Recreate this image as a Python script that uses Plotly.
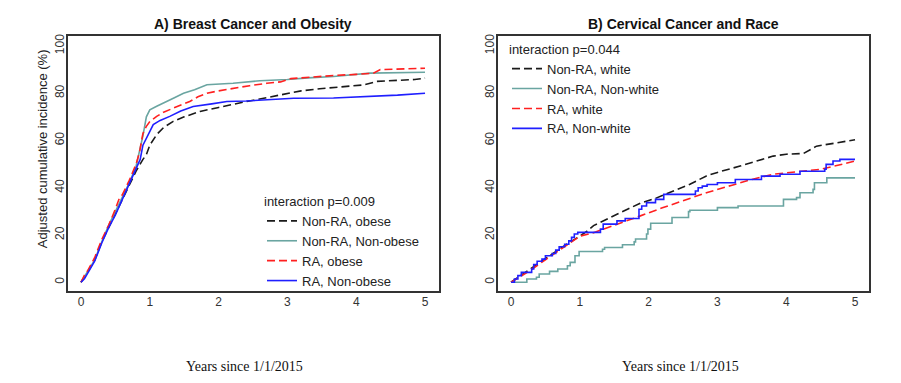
import plotly.graph_objects as go

# ---------------- Panel A: Breast cancer and obesity ----------------
a_black_x = [0, 0.05, 0.1, 0.2, 0.3, 0.4, 0.5, 0.6, 0.7, 0.8, 0.9, 0.95, 1.0, 1.1, 1.2, 1.34, 1.5, 1.73, 2.0, 2.16, 2.4, 2.55, 2.75, 2.99, 3.2, 3.47, 3.86, 4.1, 4.3, 4.6, 4.85, 5.0]
a_black_y = [0, 2, 4.5, 9.5, 17, 23, 29, 35, 41, 47, 52, 54, 58, 62.5, 65.5, 68.1, 70, 72.3, 74, 75.1, 76.5, 77.3, 78.5, 80, 81, 81.9, 82.9, 83.5, 85, 85.3, 85.8, 86.4]

a_teal_x = [0, 0.1, 0.2, 0.3, 0.4, 0.5, 0.6, 0.7, 0.8, 0.85, 0.9, 0.95, 1.0, 1.1, 1.2, 1.35, 1.49, 1.65, 1.83, 2.0, 2.21, 2.6, 3.0, 3.3, 3.67, 4.2, 4.6, 5.0]
a_teal_y = [0, 4.5, 9.5, 17, 24, 30, 36, 42, 49, 55, 62, 70, 73, 74.5, 75.8, 78, 80, 81.5, 83.6, 83.9, 84.2, 85.3, 85.8, 86.5, 87.1, 88.5, 88.8, 88.9]

a_red_x = [0, 0.05, 0.1, 0.2, 0.3, 0.4, 0.5, 0.55, 0.6, 0.7, 0.8, 0.85, 0.9, 0.95, 1.0, 1.1, 1.2, 1.34, 1.45, 1.58, 1.7, 1.83, 2.0, 2.21, 2.45, 2.7, 2.9, 3.05, 3.3, 3.67, 4.0, 4.25, 4.35, 4.7, 5.0]
a_red_y = [0, 3, 5, 10.5, 18, 24, 31, 35, 37, 43, 50, 55, 63, 66, 68, 70.2, 72, 73.7, 75, 76.5, 78.5, 80, 81, 82.1, 83.2, 84.2, 84.8, 86.2, 86.8, 87.5, 88.0, 88.5, 90.0, 90.2, 90.6]

a_blue_x = [0, 0.05, 0.1, 0.2, 0.3, 0.4, 0.5, 0.6, 0.7, 0.8, 0.86, 0.9, 1.0, 1.05, 1.15, 1.29, 1.45, 1.63, 1.9, 2.12, 2.4, 2.7, 3.09, 3.67, 4.15, 4.6, 5.0]
a_blue_y = [0, 1.5, 4, 9, 16.5, 23, 28.5, 35, 41, 48, 52, 58, 64, 66.7, 68.5, 70.2, 72.5, 74.4, 75.5, 76.5, 76.7, 77.3, 77.9, 78, 78.5, 79.2, 80]

# ---------------- Panel B: Cervical cancer and race ----------------
b_black_x = [0, 0.1, 0.25, 0.5, 0.75, 1.0, 1.1, 1.2, 1.3, 1.54, 1.7, 1.88, 2.1, 2.36, 2.6, 2.84, 3.0, 3.33, 3.6, 3.81, 4.0, 4.25, 4.44, 4.7, 5.0]
b_black_y = [0, 2, 5, 10, 15, 19.5, 21.5, 24, 25.5, 28.8, 31, 33.5, 35.5, 38.6, 41.5, 45, 46.5, 49.2, 51.5, 53.4, 54.2, 54.5, 57.6, 59, 60.3]

b_teal_x = [0, 0.23, 0.37, 0.41, 0.56, 0.68, 0.82, 0.86, 0.93, 0.99, 1.33, 1.36, 1.62, 1.79, 1.81, 1.97, 1.99, 2.03, 2.34, 2.58, 2.6, 3.0, 3.3, 3.96, 4.15, 4.2, 4.39, 4.41, 4.59, 5.0]
b_teal_y = [0, 1.4, 2.1, 3.5, 4.6, 5.6, 7.0, 8.4, 11.2, 13.0, 14.0, 14.7, 15.9, 17.1, 18.3, 20.4, 22.5, 25.0, 27.4, 29.9, 30.5, 31.6, 32.3, 35.1, 35.8, 37.9, 39.3, 42.1, 44.2, 44.2]

b_red_x = [0, 0.25, 0.5, 0.75, 1.0, 1.2, 1.5, 1.88, 2.2, 2.5, 2.84, 3.2, 3.5, 3.81, 4.2, 4.49, 4.75, 5.0]
b_red_y = [0, 4.5, 9.5, 14.5, 19.5, 21, 24, 28.1, 31.5, 34.5, 37.9, 41, 43.5, 45.7, 47, 47.8, 49.5, 51.3]

b_blue_x = [0, 0.05, 0.1, 0.15, 0.3, 0.33, 0.38, 0.45, 0.5, 0.6, 0.65, 0.7, 0.78, 0.84, 0.88, 0.92, 0.97, 1.3, 1.34, 1.54, 1.66, 1.86, 1.9, 1.97, 2.1, 2.22, 2.68, 2.72, 2.78, 2.85, 3.0, 3.26, 3.64, 3.91, 4.2, 4.56, 4.58, 4.68, 4.78, 5.0]
b_blue_y = [0, 1.4, 2.8, 4.2, 5.6, 7.5, 8.9, 9.8, 11.2, 12.2, 13.6, 15.0, 16.1, 17.5, 19.0, 20.4, 21.1, 22.5, 24.6, 26.0, 27.0, 30.9, 32.3, 33.7, 35.1, 37.2, 38.6, 40.0, 40.7, 41.4, 42.1, 43.5, 44.9, 45.7, 47.0, 47.8, 49.9, 51.3, 52.0, 52.0]

x_ticks = [0, 1, 2, 3, 4, 5]
y_ticks = [0, 20, 40, 60, 80, 100]

names_a = ["Non-RA, obese", "Non-RA, Non-obese", "RA, obese", "RA, Non-obese"]
names_b = ["Non-RA, white", "Non-RA, Non-white", "RA, white", "RA, Non-white"]
titles = ["A) Breast Cancer and Obesity", "B) Cervical Cancer and Race"]
legend_titles = ["interaction p=0.009", "interaction p=0.044"]
x_title = "Years since 1/1/2015"
y_title = "Adjusted cumulative incidence (%)"

BLACK = "#1a1a1a"
TEAL = "#6aa5a1"
RED = "#ff2020"
BLUE = "#1f1fff"
DASH = "8px,4px"
FONT = "Liberation Sans, Arial, sans-serif"

styles = [(BLACK, DASH), (TEAL, "solid"), (RED, DASH), (BLUE, "solid")]

fig = go.Figure()

a_data = [(a_black_x, a_black_y), (a_teal_x, a_teal_y), (a_red_x, a_red_y), (a_blue_x, a_blue_y)]
for (xs, ys), nm, (col, dash) in zip(a_data, names_a, styles):
    fig.add_trace(go.Scatter(x=xs, y=ys, mode="lines", name=nm,
                             line=dict(color=col, width=1.6, dash=dash),
                             xaxis="x", yaxis="y", legend="legend"))

b_data = [(b_black_x, b_black_y, "linear"), (b_teal_x, b_teal_y, "hv"),
          (b_red_x, b_red_y, "linear"), (b_blue_x, b_blue_y, "hv")]
for (xs, ys, shape), nm, (col, dash) in zip(b_data, names_b, styles):
    fig.add_trace(go.Scatter(x=xs, y=ys, mode="lines", name=nm,
                             line=dict(color=col, width=1.6, dash=dash, shape=shape),
                             xaxis="x2", yaxis="y2", legend="legend2"))

W, H = 901, 383
xr = [-0.189, 5.203]
yr = [-3.9, 104.3]
ydom = [1 - 291 / H, 1 - 34 / H]

def xax(dom):
    return dict(domain=dom, range=xr, tickvals=x_ticks, ticks="", ticklabelstandoff=-2,
                showline=True, mirror=True, linecolor="#333",
                linewidth=1.6, showgrid=False, zeroline=False,
                tickfont=dict(family=FONT, size=12, color="#333"))

def yax(anchor):
    return dict(domain=ydom, range=yr, tickvals=y_ticks, ticks="", ticklabelstandoff=-3,
                tickangle=-90, showline=True, mirror=True,
                linecolor="#333", linewidth=1.6, showgrid=False, zeroline=False,
                anchor=anchor, tickfont=dict(family=FONT, size=12, color="#333"))

leg_common = dict(bgcolor="rgba(0,0,0,0)", borderwidth=0, xanchor="left", yanchor="top",
                  font=dict(family=FONT, size=13, color="#222"), tracegroupgap=0,
                  itemwidth=30)

fig.update_layout(
    width=W, height=H,
    margin=dict(l=0, r=0, t=0, b=0),
    paper_bgcolor="white", plot_bgcolor="white",
    xaxis=dict(xax([68 / W, 439 / W]), anchor="y"),
    yaxis=yax("x"),
    xaxis2=dict(xax([498 / W, 869 / W]), anchor="y2"),
    yaxis2=yax("x2"),
    legend=dict(leg_common, x=262 / W, y=1 - 188 / H,
                title=dict(text=legend_titles[0], font=dict(family=FONT, size=13, color="#222"))),
    legend2=dict(leg_common, x=507 / W, y=1 - 35 / H,
                 title=dict(text=legend_titles[1], font=dict(family=FONT, size=13, color="#222"))),
    showlegend=True,
)

annos = [
    dict(text="<b>%s</b>" % titles[0], x=253 / W, y=1 - 22 / H, font=dict(family=FONT, size=14, color="#111")),
    dict(text="<b>%s</b>" % titles[1], x=683 / W, y=1 - 22 / H, font=dict(family=FONT, size=14, color="#111")),
    dict(text=x_title, x=244 / W, y=1 - 366 / H, font=dict(family="Liberation Serif, Times New Roman, serif", size=14, color="#111")),
    dict(text=x_title, x=680 / W, y=1 - 366 / H, font=dict(family="Liberation Serif, Times New Roman, serif", size=14, color="#111")),
    dict(text=y_title, x=42 / W, y=1 - 148 / H, textangle=-90, font=dict(family=FONT, size=13, color="#222")),
]
for a in annos:
    fig.add_annotation(xref="paper", yref="paper", showarrow=False, xanchor="center", yanchor="middle", **a)

fig.write_html("out.html", config={"displayModeBar": False},
               post_script="document.body.style.margin='0';document.body.style.overflow='hidden';")
